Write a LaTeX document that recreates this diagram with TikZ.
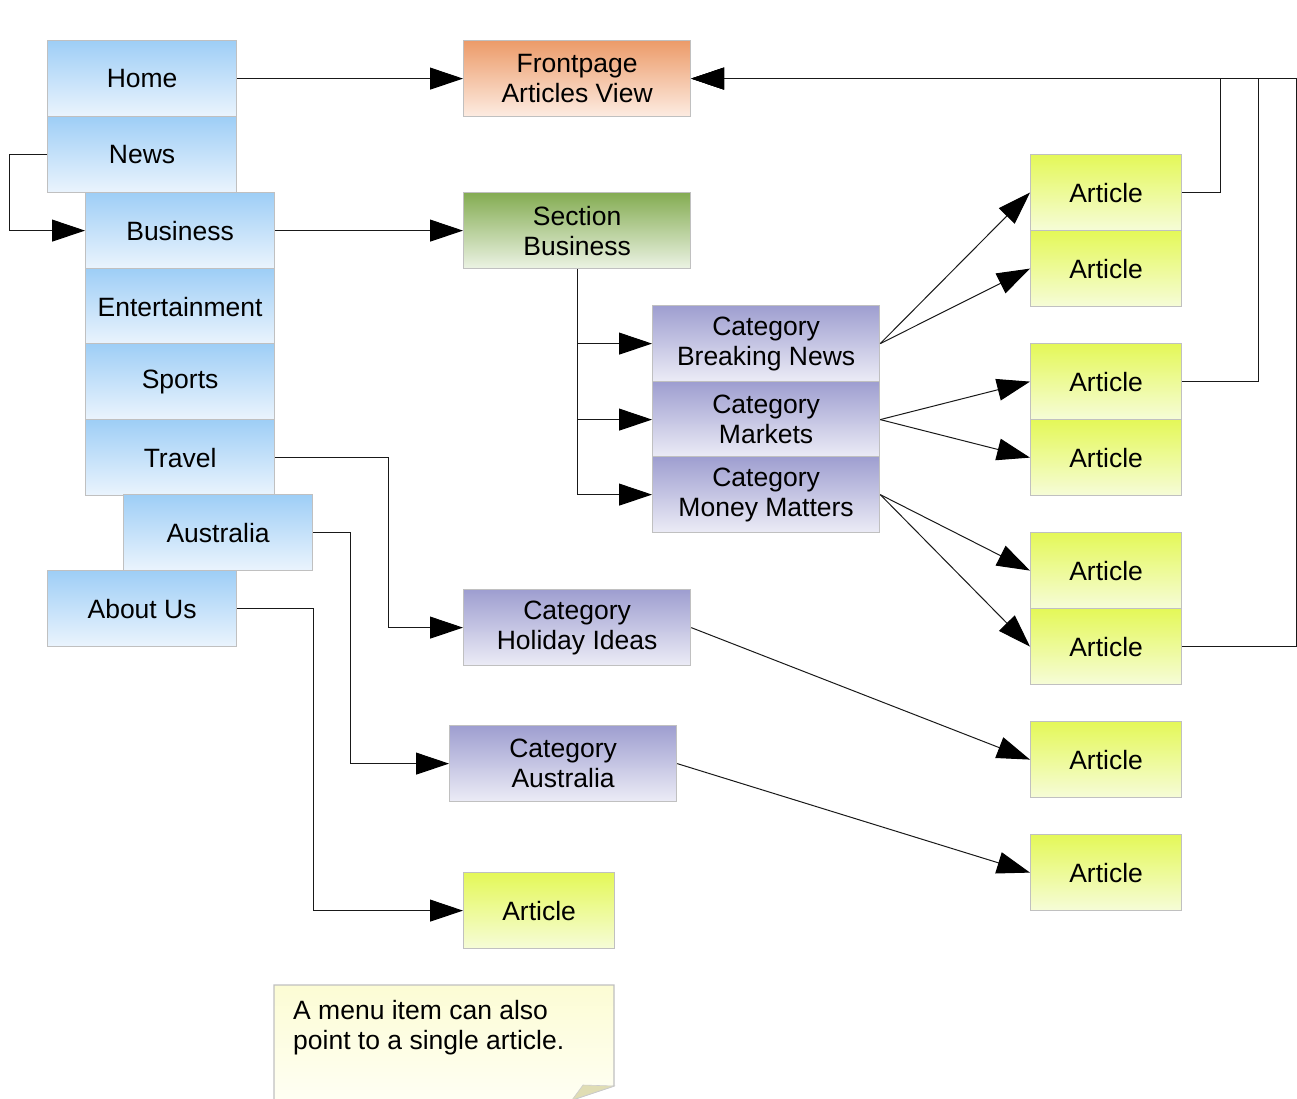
\documentclass[tikz,border=0pt]{standalone}
\usepackage{fontspec}
\setmainfont{Liberation Sans}
\usetikzlibrary{arrows.meta}
\definecolor{blueT}{RGB}{158,206,246}
\definecolor{blueB}{RGB}{235,244,253}
\definecolor{orangeT}{RGB}{236,155,105}
\definecolor{orangeB}{RGB}{253,236,226}
\definecolor{greenT}{RGB}{132,172,82}
\definecolor{greenB}{RGB}{236,243,228}
\definecolor{purpT}{RGB}{158,158,208}
\definecolor{purpB}{RGB}{236,236,246}
\definecolor{yelT}{RGB}{228,248,88}
\definecolor{yelB}{RGB}{246,252,216}
\definecolor{noteT}{RGB}{252,252,212}
\definecolor{noteB}{RGB}{255,255,246}
\definecolor{foldC}{RGB}{224,221,180}
\definecolor{boxborder}{RGB}{192,192,192}
\begin{document}
\begin{tikzpicture}[x=1pt,y=-1pt,
  box/.style={rectangle, draw=boxborder, line width=1.2pt, minimum width=189pt,
    minimum height=76pt, anchor=north west, inner sep=0pt, align=center,
    font=\fontsize{26.5}{30}\selectfont, text=black},
  menu/.style={box, top color=blueT, bottom color=blueB},
  wbox/.style={box, minimum width=227pt},
  frontbox/.style={wbox, top color=orangeT, bottom color=orangeB},
  sectbox/.style={wbox, top color=greenT, bottom color=greenB},
  catbox/.style={wbox, top color=purpT, bottom color=purpB},
  art/.style={box, minimum width=151pt, top color=yelT, bottom color=yelB},
  conn/.style={draw=black!90, line width=1pt},
  arr/.style={conn, -{Triangle[length=33pt,width=22pt,color=black,fill=black]}}]
\useasboundingbox (0,0) rectangle (1297,1099);

% menu items
\node[menu] (home) at (47,40) {Home};
\node[menu] (news) at (47,116) {News};
\node[menu] (business) at (85,192) {Business};
\node[menu] (ent) at (85,268) {Entertainment};
\node[menu] (sports) at (85,343) {Sports};
\node[menu] (travel) at (85,419) {Travel};
\node[menu] (austr) at (123,494) {Australia};
\node[menu] (about) at (47,570) {About Us};

% views
\node[frontbox] (front) at (463,40) {Frontpage\\Articles View};
\node[sectbox] (sect) at (463,192) {Section\\Business};
\node[catbox] (cbn) at (652,305) {Category\\Breaking News};
\node[catbox] (cmk) at (652,381) {Category\\Markets};
\node[catbox] (cmm) at (652,456) {Category\\Money Matters};
\node[catbox] (chol) at (463,589) {Category\\Holiday Ideas};
\node[catbox] (caus) at (449,725) {Category\\Australia};
\node[art] (asingle) at (463,872) {Article};

% articles
\node[art] (a1) at (1030,154) {Article};
\node[art] (a2) at (1030,230) {Article};
\node[art] (a3) at (1030,343) {Article};
\node[art] (a4) at (1030,419) {Article};
\node[art] (a5) at (1030,532) {Article};
\node[art] (a6) at (1030,608) {Article};
\node[art] (a7) at (1030,721) {Article};
\node[art] (a8) at (1030,834) {Article};

% note
\shade[top color=noteT, bottom color=noteB, draw=boxborder, line width=1.2pt]
  (274,1110) -- (274,985) -- (614,985) -- (614,1086) -- (572,1100) -- (560,1110);
\fill[foldC, draw=boxborder!80, line width=0.6pt] (583,1085) -- (614,1086) -- (572,1100) -- cycle;
\node[anchor=north west, inner sep=0pt, align=left, font=\fontsize{26.5}{30}\selectfont] (notetext) at (293,1000)
  {A menu item can also\\point to a single article.};

% connectors
\draw[arr] (home.east) -- (front.west);
\draw[arr] (news.west) -- ++(-38,0) |- (business.west);
\draw[arr] (business.east) -- (sect.west);
\draw[arr] (sect.south) |- (cbn.west);
\draw[arr] (sect.south) |- (cmk.west);
\draw[arr] (sect.south) |- (cmm.west);
\draw[arr] (travel.east) -- ++(113,0) |- (chol.west);
\draw[arr] (austr.east) -- ++(37,0) |- (caus.west);
\draw[arr] (about.east) -- ++(76,0) |- (asingle.west);

\draw[arr] (cbn.east) -- (a1.west);
\draw[arr] (cbn.east) -- (a2.west);
\draw[arr] (cmk.east) -- (a3.west);
\draw[arr] (cmk.east) -- (a4.west);
\draw[arr] (cmm.east) -- (a5.west);
\draw[arr] (cmm.east) -- (a6.west);
\draw[arr] (chol.east) -- (a7.west);
\draw[arr] (caus.east) -- (a8.west);

\draw[arr] (a6.east) -- ++(114,0) |- (front.east);
\draw[arr] (a3.east) -- ++(76,0) |- (front.east);
\draw[arr] (a1.east) -- ++(38,0) |- (front.east);
\end{tikzpicture}
\end{document}
